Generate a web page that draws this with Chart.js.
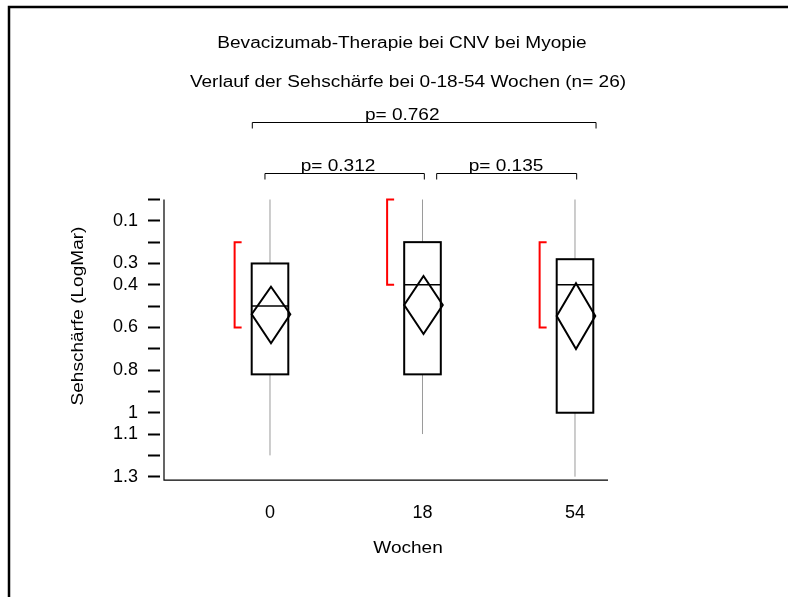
<!DOCTYPE html>
<html lang="de">
<head>
    <meta charset="UTF-8">
    <title>Bevacizumab-Therapie bei CNV bei Myopie</title>
    <script src="https://cdn.jsdelivr.net/npm/chart.js@4.4.1/dist/chart.umd.min.js"></script>
    <style>
        body { margin: 0; background: #fff; }
        canvas { display: block; }
    </style>
</head>
<body>
    <canvas id="chart" width="788" height="597"></canvas>
    <script>
        // Daten (LogMar)
        const weeks = ['0', '18', '54'];
        const whiskerTop = [0.0, 0.0, 0.0];
        const whiskerBottom = [1.2, 1.1, 1.3];
        const q1 = [0.3, 0.2, 0.28];
        const median = [0.5, 0.4, 0.4];
        const q3 = [0.82, 0.82, 1.0];
        const mean = [0.538, 0.495, 0.546];
        const ciLow = [0.409, 0.359, 0.393];
        const ciHigh = [0.674, 0.631, 0.701];
        const rangeLow = [0.2, 0.0, 0.2];
        const rangeHigh = [0.6, 0.4, 0.6];

        const yTickValues = [0, 0.1, 0.2, 0.3, 0.4, 0.5, 0.6, 0.7, 0.8, 0.9, 1.0, 1.1, 1.2, 1.3];
        const yTickLabels = ['', '0.1', '', '0.3', '0.4', '', '0.6', '', '0.8', '', '1', '1.1', '', '1.3'];

        const pValues = ['0.762', '0.312', '0.135'];

        const FONT = "'Liberation Sans', Arial, sans-serif";
        const STRETCH = 1.19; // Text im Original horizontal gestreckt

        // Layout der Vergleichsklammern (x in Achseneinheiten, y in LogMar)
        const bracketLayout = [
            { x0: 0.884, x1: 3.138, y: -0.362, tx: 1.867 },
            { x0: 0.967, x1: 2.012, y: -0.123, tx: 1.446 },
            { x0: 2.093, x1: 3.011, y: -0.123, tx: 2.548 }
        ];

        function stretchedText(ctx, text, x, y, angle) {
            ctx.save();
            ctx.translate(x, y);
            if (angle) ctx.rotate(angle);
            ctx.scale(STRETCH, 1);
            ctx.fillText(text, 0, 0);
            ctx.restore();
        }

        const boxPlotPlugin = {
            id: 'boxPlot',
            afterDraw(chart) {
                const ctx = chart.ctx;
                const xs = chart.scales.x;
                const ys = chart.scales.y;
                const area = chart.chartArea;
                const halfW = xs.getPixelForValue(1.12) - xs.getPixelForValue(1);

                ctx.save();
                ctx.lineCap = 'butt';

                // Rahmen
                ctx.strokeStyle = '#000';
                ctx.lineWidth = 2.5;
                ctx.beginPath();
                ctx.moveTo(9, 597);
                ctx.lineTo(9, 7);
                ctx.lineTo(788, 7);
                ctx.stroke();

                // Achsen
                const axisX = area.left + 4;
                const axisY = ys.getPixelForValue(1.3) + 3.5;
                ctx.lineWidth = 1.2;
                ctx.beginPath();
                ctx.moveTo(axisX, ys.getPixelForValue(0));
                ctx.lineTo(axisX, axisY);
                ctx.lineTo(area.right, axisY);
                ctx.stroke();

                weeks.forEach((w, i) => {
                    const cx = xs.getPixelForValue(i + 1);

                    // Whisker
                    ctx.strokeStyle = '#9a9a9a';
                    ctx.lineWidth = 1;
                    ctx.beginPath();
                    ctx.moveTo(cx, ys.getPixelForValue(whiskerTop[i]));
                    ctx.lineTo(cx, ys.getPixelForValue(q1[i]));
                    ctx.moveTo(cx, ys.getPixelForValue(q3[i]));
                    ctx.lineTo(cx, ys.getPixelForValue(whiskerBottom[i]));
                    ctx.stroke();

                    // Box
                    ctx.strokeStyle = '#000';
                    ctx.lineWidth = 2;
                    const top = ys.getPixelForValue(q1[i]);
                    const bot = ys.getPixelForValue(q3[i]);
                    ctx.strokeRect(cx - halfW, top, halfW * 2, bot - top);

                    // Median
                    ctx.lineWidth = 1.5;
                    ctx.beginPath();
                    ctx.moveTo(cx - halfW, ys.getPixelForValue(median[i]));
                    ctx.lineTo(cx + halfW, ys.getPixelForValue(median[i]));
                    ctx.stroke();

                    // Mittelwert-Raute (Konfidenzintervall)
                    const dx = cx + 1;
                    ctx.lineWidth = 2;
                    ctx.beginPath();
                    ctx.moveTo(dx, ys.getPixelForValue(ciLow[i]));
                    ctx.lineTo(dx + halfW + 1, ys.getPixelForValue(mean[i]));
                    ctx.lineTo(dx, ys.getPixelForValue(ciHigh[i]));
                    ctx.lineTo(dx - halfW - 1, ys.getPixelForValue(mean[i]));
                    ctx.closePath();
                    ctx.stroke();

                    // rote Klammer
                    const rx = xs.getPixelForValue(i + 1 - 0.232);
                    ctx.strokeStyle = '#ff0000';
                    ctx.lineWidth = 2;
                    ctx.beginPath();
                    ctx.moveTo(rx + 7, ys.getPixelForValue(rangeLow[i]));
                    ctx.lineTo(rx, ys.getPixelForValue(rangeLow[i]));
                    ctx.lineTo(rx, ys.getPixelForValue(rangeHigh[i]));
                    ctx.lineTo(rx + 7, ys.getPixelForValue(rangeHigh[i]));
                    ctx.stroke();
                });

                // Vergleichsklammern mit p-Werten
                ctx.strokeStyle = '#000';
                ctx.fillStyle = '#000';
                ctx.lineWidth = 1;
                ctx.font = '16px ' + FONT;
                ctx.textAlign = 'center';
                ctx.textBaseline = 'alphabetic';
                pValues.forEach((p, k) => {
                    const b = bracketLayout[k];
                    const x0 = xs.getPixelForValue(b.x0);
                    const x1 = xs.getPixelForValue(b.x1);
                    const y = Math.round(ys.getPixelForValue(b.y)) + 0.5;
                    ctx.beginPath();
                    ctx.moveTo(x0, y + 6);
                    ctx.lineTo(x0, y);
                    ctx.lineTo(x1, y);
                    ctx.lineTo(x1, y + 6);
                    ctx.stroke();
                    stretchedText(ctx, 'p= ' + p, xs.getPixelForValue(b.tx), y - 3);
                });

                // Titel
                ctx.textBaseline = 'middle';
                stretchedText(ctx, 'Bevacizumab-Therapie bei CNV bei Myopie', 402, 44);
                stretchedText(ctx, 'Verlauf der Sehschärfe bei 0-18-54 Wochen (n= 26)', 408, 83);
                stretchedText(ctx, 'Wochen', 408, 549);
                stretchedText(ctx, 'Sehschärfe (LogMar)', 79, 316, -Math.PI / 2);
                ctx.restore();
            }
        };

        new Chart(document.getElementById('chart'), {
            type: 'scatter',
            data: { datasets: [] },
            options: {
                responsive: false,
                animation: false,
                layout: { padding: { top: 199.5, right: 180, left: 0, bottom: 0 } },
                plugins: { legend: { display: false }, tooltip: { enabled: false } },
                scales: {
                    x: {
                        type: 'linear',
                        min: 0.2787,
                        max: 3.2164,
                        afterBuildTicks: scale => {
                            scale.ticks = weeks.map((w, i) => ({ value: i + 1 }));
                        },
                        afterFit: scale => { scale.height = 120.3; },
                        grid: { display: false },
                        border: { display: false },
                        ticks: {
                            autoSkip: false,
                            maxRotation: 0,
                            padding: 18,
                            color: '#000',
                            font: { size: 18, family: FONT },
                            callback: v => weeks[v - 1]
                        }
                    },
                    y: {
                        type: 'linear',
                        reverse: true,
                        min: 0,
                        max: 1.3,
                        afterBuildTicks: scale => {
                            scale.ticks = yTickValues.map(v => ({ value: v }));
                        },
                        afterFit: scale => { scale.width = 160; },
                        grid: {
                            drawOnChartArea: false,
                            tickLength: 12,
                            tickWidth: 2,
                            tickColor: '#000'
                        },
                        border: { display: false },
                        ticks: {
                            autoSkip: false,
                            padding: 10,
                            color: '#000',
                            font: { size: 18, family: FONT },
                            callback: (v, idx) => yTickLabels[idx]
                        }
                    }
                }
            },
            plugins: [boxPlotPlugin]
        });
    </script>
</body>
</html>
